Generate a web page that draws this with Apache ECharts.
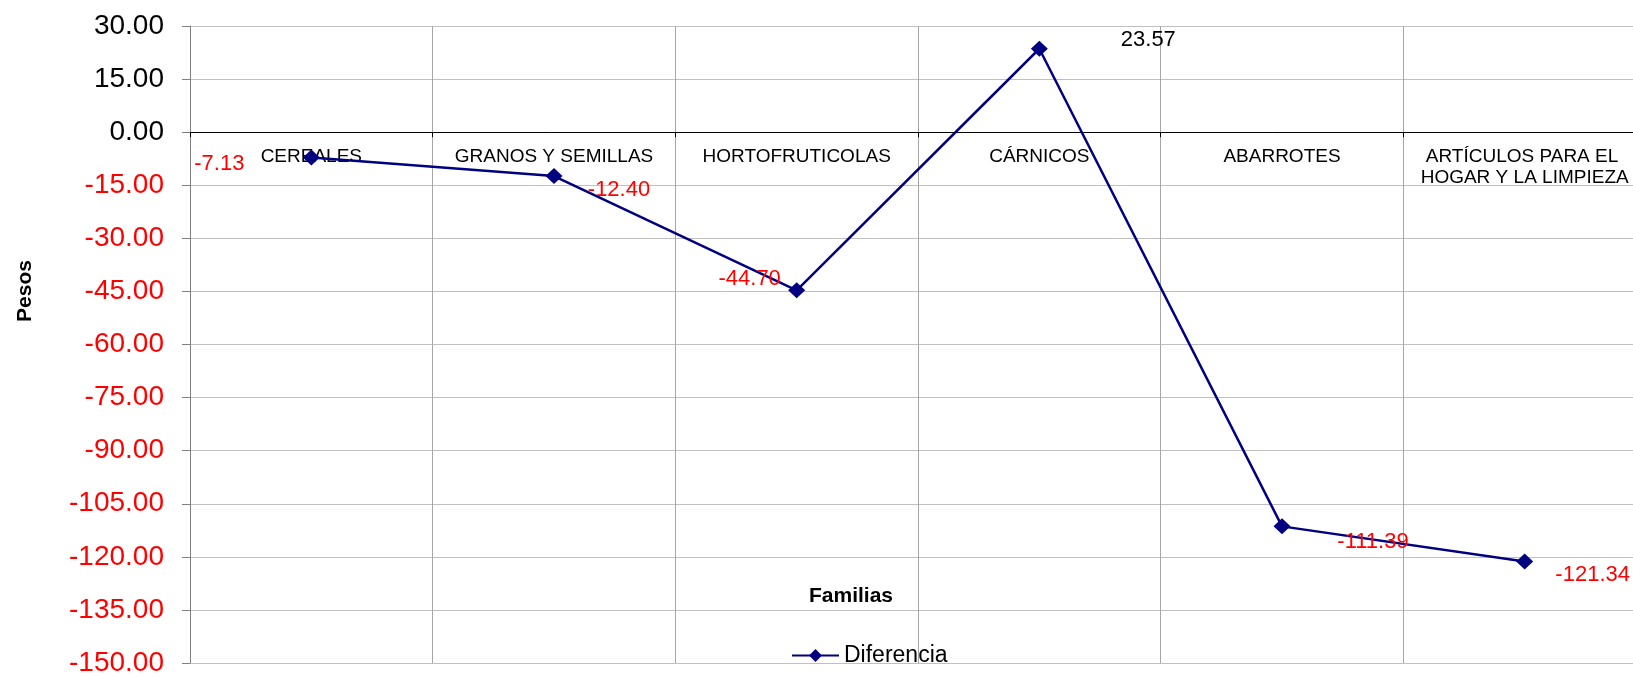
<!DOCTYPE html>
<html>
<head>
<meta charset="utf-8">
<title>Diferencia por familia</title>
<script src="https://cdn.jsdelivr.net/npm/echarts@6/dist/echarts.min.js"></script>
<style>
  html, body { margin: 0; padding: 0; background: #fff; }
  #chart { width: 1633px; height: 677px; }
</style>
</head>
<body>
<div id="chart"></div>
<script>
// datos
const familias = ["CEREALES", "GRANOS Y SEMILLAS", "HORTOFRUTICOLAS", "CÁRNICOS", "ABARROTES", "ARTÍCULOS PARA EL HOGAR Y LA LIMPIEZA"];
const diferencia = [-7.13, -12.40, -44.70, 23.57, -111.39, -121.34];
const yMin = -150;
const yMax = 30;
const yStep = 15;

// desplazamiento de cada etiqueta respecto a su punto (como en el original)
const labelOffsets = [[-92, 7], [65, 14], [-47, -11], [109, -9], [91, 16], [68, 13]];

const font = "Liberation Sans, Arial, sans-serif";
const red = "#ff0000";

// area del grafico
const gridTop = 26, gridBottom = 14;
const plotH = 677 - gridTop - gridBottom;
// el eje de categorias va sobre el cero
const zeroShift = -plotH * (0 - yMin) / (yMax - yMin);

const myChart = echarts.init(document.getElementById("chart"));

const option = {
  animation: false,
  textStyle: { fontFamily: font },
  grid: { left: 190, right: -13, top: gridTop, bottom: gridBottom, containLabel: false, outerBoundsMode: "none" },
  legend: {
    data: ["Diferencia"],
    left: 786,
    top: 639,
    itemWidth: 47,
    itemHeight: 16,
    textStyle: { fontSize: 23, color: "#000", fontFamily: font }
  },
  graphic: [
    {
      type: "text",
      x: 25, y: 291,
      rotation: Math.PI / 2,
      style: { text: "Pesos", font: "bold 21px " + font, fill: "#000", textAlign: "center", textVerticalAlign: "middle" }
    },
    {
      type: "text",
      x: 851, y: 596,
      style: { text: "Familias", font: "bold 21px " + font, fill: "#000", textAlign: "center", textVerticalAlign: "middle" }
    }
  ],
  xAxis: {
    type: "category",
    data: familias,
    boundaryGap: true,
    offset: zeroShift,
    axisLine: { onZero: false, lineStyle: { color: "#000", width: 1 } },
    axisTick: { show: true, length: 5, lineStyle: { color: "#000" } },
    axisLabel: {
      interval: 0,
      margin: 14,
      fontSize: 19,
      lineHeight: 21,
      color: "#000",
      width: 240,
      overflow: "break"
    },
    splitLine: { show: true, interval: 0, lineStyle: { color: "#a6a6a6", width: 1 } }
  },
  yAxis: {
    type: "value",
    min: yMin,
    max: yMax,
    interval: yStep,
    axisLine: { show: true, lineStyle: { color: "#808080" } },
    axisTick: { show: true, length: 8, lineStyle: { color: "#808080" } },
    axisLabel: {
      margin: 26,
      fontSize: 28,
      formatter: (v) => v.toFixed(2),
      color: (v) => (Number(v) < 0 ? red : "#000")
    },
    splitLine: { show: true, lineStyle: { color: "#c0c0c0", width: 1 } }
  },
  series: [
    {
      name: "Diferencia",
      type: "line",
      data: diferencia.map((v, i) => ({
        value: v,
        label: { offset: labelOffsets[i], color: v < 0 ? red : "#000" }
      })),
      symbol: "diamond",
      symbolSize: [17, 16],
      lineStyle: { color: "#000080", width: 2.5 },
      itemStyle: { color: "#000080" },
      label: {
        show: true,
        position: "inside",
        fontSize: 22,
        formatter: (p) => p.value.toFixed(2)
      }
    }
  ]
};

myChart.setOption(option);
</script>
</body>
</html>
